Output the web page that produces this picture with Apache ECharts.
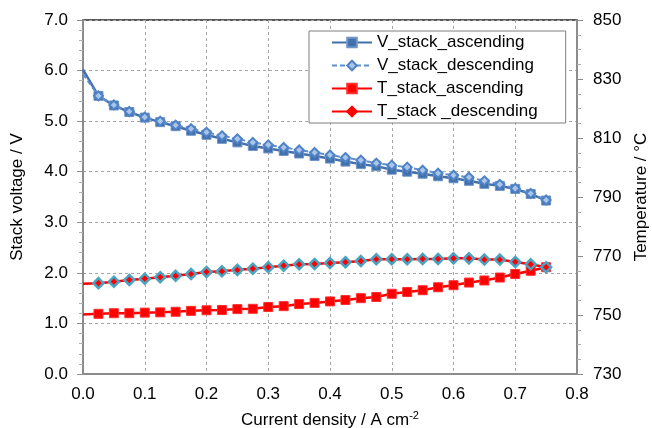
<!DOCTYPE html>
<html>
<head>
<meta charset="utf-8">
<script src="https://cdn.jsdelivr.net/npm/echarts@6/dist/echarts.min.js"></script>
<style>
html,body{margin:0;padding:0;background:#fff;}
#chart{width:652px;height:428px;}
</style>
</head>
<body>
<div id="chart"></div>
<script>
// ---- data ----
const currentDensity = [0, 0.025, 0.05, 0.075, 0.1, 0.125, 0.15, 0.175, 0.2, 0.225, 0.25, 0.275, 0.3, 0.325, 0.35, 0.375, 0.4, 0.425, 0.45, 0.475, 0.5, 0.525, 0.55, 0.575, 0.6, 0.625, 0.65, 0.675, 0.7, 0.725, 0.75];
const vStackAscending = [6.02, 5.50, 5.31, 5.18, 5.07, 4.98, 4.90, 4.81, 4.73, 4.65, 4.58, 4.51, 4.46, 4.41, 4.36, 4.31, 4.26, 4.20, 4.15, 4.11, 4.04, 4.00, 3.96, 3.91, 3.87, 3.82, 3.76, 3.72, 3.66, 3.56, 3.43];
const vStackDescending = [5.93, 5.50, 5.32, 5.19, 5.08, 5.00, 4.92, 4.85, 4.78, 4.71, 4.65, 4.58, 4.53, 4.48, 4.43, 4.38, 4.33, 4.28, 4.23, 4.17, 4.13, 4.09, 4.03, 3.97, 3.93, 3.89, 3.82, 3.75, 3.67, 3.57, 3.44];
const tStackAscending = [750.2, 750.4, 750.6, 750.6, 750.8, 750.9, 751.1, 751.4, 751.6, 751.7, 752.0, 752.1, 752.7, 753.0, 753.7, 754.1, 754.6, 755.1, 755.7, 756.1, 757.2, 757.8, 758.4, 759.4, 760.1, 761.0, 761.7, 762.7, 763.9, 765.0, 766.2];
const tStackDescending = [760.6, 760.8, 761.3, 761.9, 762.3, 762.8, 763.3, 763.9, 764.6, 764.8, 765.3, 765.7, 766.2, 766.7, 767.2, 767.3, 767.6, 767.9, 768.3, 768.9, 768.9, 768.9, 769.0, 769.0, 769.2, 769.2, 768.8, 768.8, 768.0, 767.2, 766.2];
const seriesNames = ['V_stack_ascending', 'V_stack_descending', 'T_stack_ascending', 'T_stack _descending'];
const xAxisTitle = 'Current density / A cm';
const xAxisTitleSup = '-2';
const yLeftTitle = 'Stack voltage / V';
const yRightTitle = 'Temperature / °C';

function pts(ys) {
  return currentDensity.map((x, i) => i === 0 ? { value: [x, ys[i]], symbol: 'none' } : [x, ys[i]]);
}

const FONT = 'Liberation Sans, Arial, sans-serif';
const chart = echarts.init(document.getElementById('chart'), null, { renderer: 'canvas' });

chart.setOption({
  animation: false,
  textStyle: { fontFamily: FONT },
  grid: { left: 83, right: 75, top: 20, bottom: 54, containLabel: false, outerBoundsMode: 'none', show: true, borderColor: '#595959', borderWidth: 2, backgroundColor: 'transparent' },
  legend: {
    orient: 'vertical',
    left: 309, top: 31,
    backgroundColor: '#fff',
    borderColor: '#7f7f7f', borderWidth: 1,
    padding: [3, 28, 3, 22],
    itemWidth: 40, itemHeight: 12, itemGap: 6,
    textStyle: { fontFamily: FONT, fontSize: 17, color: '#000' },
    data: [
      { name: seriesNames[0] },
      { name: seriesNames[1] },
      { name: seriesNames[2] },
      { name: seriesNames[3], itemStyle: { borderColor: '#ff0000' } }
    ]
  },
  xAxis: {
    type: 'value', min: 0, max: 0.8, interval: 0.1,
    name: xAxisTitle + '{sup|' + xAxisTitleSup + '}',
    nameLocation: 'middle', nameGap: 36,
    nameTextStyle: { fontFamily: FONT, fontSize: 17, color: '#000', rich: { sup: { fontSize: 11, padding: [0, 0, 9, 0], fontFamily: FONT, color: '#000' } } },
    axisLine: { lineStyle: { color: '#8c8c8c', width: 2 } },
    axisTick: { show: false },
    axisLabel: { fontFamily: FONT, fontSize: 17, color: '#000', margin: 12, formatter: v => v.toFixed(1) },
    splitLine: { show: true, lineStyle: { color: '#a6a6a6', type: [3, 3], width: 1 } }
  },
  yAxis: [
    {
      type: 'value', min: 0, max: 7, interval: 1, position: 'left',
      name: yLeftTitle, nameLocation: 'middle', nameGap: 57, nameRotate: 90,
      nameTextStyle: { fontFamily: FONT, fontSize: 17, color: '#000' },
      axisLine: { show: true, lineStyle: { color: '#8c8c8c', width: 2 } },
      axisTick: { show: true, inside: false, length: 6, lineStyle: { color: '#8c8c8c' } },
      minorTick: { show: true, splitNumber: 5, length: 4, lineStyle: { color: '#b0b0b0' } },
      axisLabel: { fontFamily: FONT, fontSize: 17, color: '#000', margin: 15, formatter: v => v.toFixed(1) },
      splitLine: { show: true, lineStyle: { color: '#a6a6a6', type: [3, 3], width: 1 } }
    },
    {
      type: 'value', min: 730, max: 850, interval: 20, position: 'right',
      name: yRightTitle, nameLocation: 'middle', nameGap: 56, nameRotate: 90,
      nameTextStyle: { fontFamily: FONT, fontSize: 17, color: '#000' },
      axisLine: { show: true, lineStyle: { color: '#8c8c8c', width: 2 } },
      axisTick: { show: true, inside: false, length: 6, lineStyle: { color: '#8c8c8c' } },
      minorTick: { show: true, splitNumber: 4, length: 4, lineStyle: { color: '#b0b0b0' } },
      axisLabel: { fontFamily: FONT, fontSize: 17, color: '#000', margin: 16 },
      splitLine: { show: false }
    }
  ],
  series: [
    {
      name: seriesNames[0], type: 'line', yAxisIndex: 0, data: pts(vStackAscending),
      symbol: 'rect', symbolSize: 9, showSymbol: true,
      lineStyle: { color: '#4270ad', width: 2.5 },
      itemStyle: { color: '#4270ad', borderColor: '#6f95c8', borderWidth: 1 },
      z: 2
    },
    {
      name: seriesNames[1], type: 'line', yAxisIndex: 0, data: pts(vStackDescending),
      symbol: 'diamond', symbolSize: 9, showSymbol: true,
      lineStyle: { color: '#5d8fd0', width: 2, type: [5, 3] },
      itemStyle: { color: '#a9c5ea', borderColor: '#4f83c6', borderWidth: 2 },
      z: 3
    },
    {
      name: seriesNames[2], type: 'line', yAxisIndex: 1, data: pts(tStackAscending),
      symbol: 'rect', symbolSize: 9, showSymbol: true,
      lineStyle: { color: '#ff0000', width: 2.5 },
      itemStyle: { color: '#ff0000', borderColor: '#ff3030', borderWidth: 1 },
      z: 4
    },
    {
      name: seriesNames[3], type: 'line', yAxisIndex: 1, data: pts(tStackDescending),
      symbol: 'diamond', symbolSize: 10, showSymbol: true,
      lineStyle: { color: '#ff0000', width: 2.5 },
      itemStyle: { color: '#ff0000', borderColor: '#4aa3c0', borderWidth: 2.5 },
      z: 5
    }
  ]
});
</script>
</body>
</html>
